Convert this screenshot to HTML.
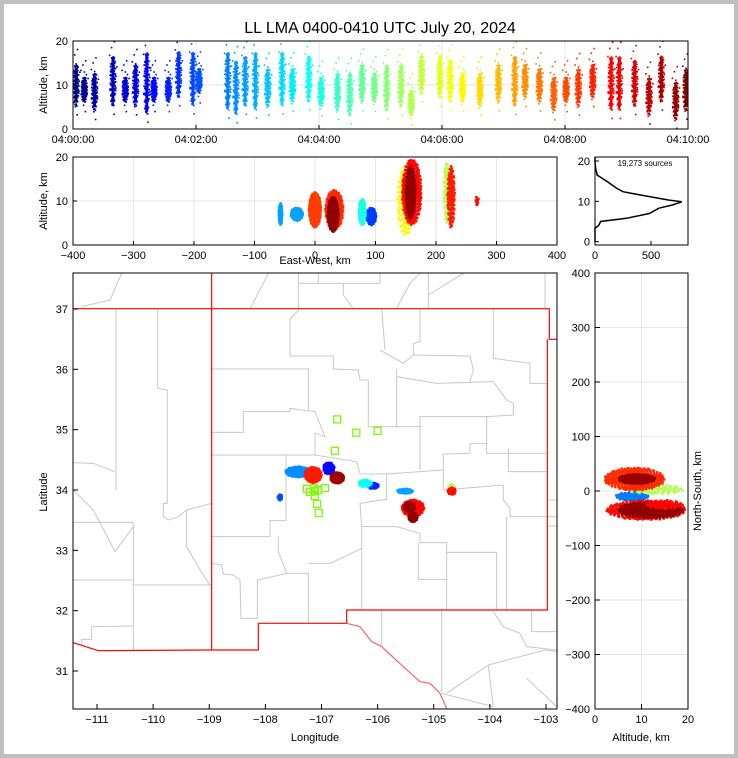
<!DOCTYPE html>
<html><head><meta charset="utf-8"><style>
html,body{margin:0;padding:0;background:#fff}
svg{display:block;font-family:"Liberation Sans",sans-serif}
</style></head><body>
<svg id="fig" width="738" height="758" viewBox="0 0 738 758" xmlns="http://www.w3.org/2000/svg">
<defs>
<clipPath id="clipTop"><rect x="73" y="41" width="615" height="88"/></clipPath>
<clipPath id="clipEW"><rect x="73" y="157" width="484" height="88"/></clipPath>
<clipPath id="clipNS"><rect x="595" y="273" width="93" height="436"/></clipPath>
</defs>
<rect x="0" y="0" width="738" height="758" fill="#c0c0c0"/>
<rect x="4" y="4" width="730" height="750" fill="#fff"/>
<text x="380" y="33" font-size="16" text-anchor="middle">LL LMA 0400-0410 UTC July 20, 2024</text>
<g id="layer"></g>
</svg>
<script>
// ---------- data ----------
const tBins = [3,11,21,39,51,61,72,79,93,103,117,123,151,159,168,178,190,204,214,230,242,258,270,282,294,306,320,330,340,358,368,380,397,415,431,441,455,469,481,493,507,525,533,548,562,574,588,598];
const tAltLo = [5,6,4,5,6,5,3,6,6,7,5,8,4,3,5,4,5,5,6,6,5,4,3,6,6,4,5,3,8,7,6,6,5,6,5,7,6,4,6,5,7,4,4,5,3,6,2,4];
const tAltHi = [15,12,13,17,12,15,18,12,12,18,18,14,18,16,17,18,14,18,14,17,12,13,13,15,13,15,15,9,17,17,16,13,13,15,17,15,14,12,12,14,15,17,17,16,12,17,11,14];
const ewX = [-57,-30,93,78,218,150,0,32,225,160,268,30,158];
const ewAlt = [7,7,6.5,7.5,12,10,8,8,11,12,10,7,12];
const ewSx = [3,10,8,6,5,14,10,15,6,16,3,9,8];
const ewSa = [2.5,1.5,2,3,7,8,4,4.5,7,7.5,1,4,6];
const ewT = [170,170,110,240,330,380,490,500,510,520,520,590,590];
const ewN = [60,90,90,80,90,140,220,220,130,320,8,200,220];
const mapLon = [-106.87,-106.08,-107.74,-107.42,-105.51,-106.22,-104.68,-107.15,-105.37,-104.68,-106.72,-105.43,-105.37];
const mapLat = [34.36,34.07,33.88,34.30,33.98,34.11,34.03,34.25,33.70,33.98,34.20,33.72,33.55];
const mapSx = [0.1,0.1,0.04,0.22,0.14,0.12,0.06,0.15,0.2,0.07,0.12,0.1,0.08];
const mapSy = [0.1,0.05,0.05,0.09,0.04,0.06,0.07,0.13,0.14,0.06,0.09,0.08,0.08];
const mapT = [80,100,120,160,170,230,330,510,520,520,580,585,590];
const mapN = [70,50,20,150,60,50,30,200,150,40,160,120,90];
const staLon = [-106.72,-106.38,-106.0,-106.76,-107.26,-107.21,-107.13,-107.06,-106.94,-107.12,-107.08,-107.05,-107.12];
const staLat = [35.17,34.95,34.98,34.65,34.02,33.97,34.03,34.0,34.03,33.90,33.77,33.62,33.98];
const nsAlt = [8,8,13,8.5,11,9,12,15];
const nsY = [-10,-10,3,22,-35,22,-35,-25];
const nsSa = [3.5,3.5,6,6.5,8.5,4,7,4];
const nsSy = [8,6,9,21,18,9,15,8];
const nsT = [120,150,330,500,520,585,590,520];
const nsN = [60,70,80,300,340,160,280,60];
const hAlt = [0,3.3,4.1,5,5.8,7,8.3,9.1,9.9,10.3,11.6,12.4,13.2,14.9,16.5,18.2,19.8,21];
const hCnt = [0,0,35,50,280,485,570,690,775,660,400,250,195,110,20,5,0,0];
const timeTicks = ["04:00:00","04:02:00","04:04:00","04:06:00","04:08:00","04:10:00"];
const ewTicks = [-400,-300,-200,-100,0,100,200,300,400];
const lonTicks = [-111,-110,-109,-108,-107,-106,-105,-104,-103];
const latTicks = [31,32,33,34,35,36,37];
const nsTicks = [-400,-300,-200,-100,0,100,200,300,400];

// ---------- helpers ----------
const NS = "http://www.w3.org/2000/svg";
const layer = document.getElementById('layer');
function mk(tag, attrs, parent){const e=document.createElementNS(NS,tag);for(const k in attrs)e.setAttribute(k,attrs[k]);(parent||layer).appendChild(e);return e;}
function jet(v){v=Math.max(0,Math.min(1,v));
  const r=Math.max(0,Math.min(1,1.5-Math.abs(4*v-3))),g=Math.max(0,Math.min(1,1.5-Math.abs(4*v-2))),b=Math.max(0,Math.min(1,1.5-Math.abs(4*v-1)));
  return `rgb(${Math.round(r*255)},${Math.round(g*255)},${Math.round(b*255)})`;}
function lin(d0,d1,p0,p1){return v=>p0+(v-d0)*(p1-p0)/(d1-d0);}
function cluster(g,cx,cy,sx,sy,n,col,sz){
  for(let i=0;i<n;i++){const r=Math.sqrt((i+0.5)/n),th=i*2.39996;
    mk('rect',{x:(cx+sx*r*Math.cos(th)-sz/2).toFixed(1),y:(cy+sy*r*Math.sin(th)-sz/2).toFixed(1),width:sz,height:sz,fill:col},g);}
}
function frame(name,x,y,w,h){const f=mk('rect',{x:x,y:y,width:w,height:h,fill:'none',stroke:'#000','stroke-width':1});
  }
function txt(s,x,y,o){const t=mk('text',Object.assign({x:x,y:y,'font-size':11},o||{}));t.textContent=s;return t;}

// ---------- panel 1: time-height ----------
{const X=lin(0,600,73,688),Y=lin(0,20,129,41);
 const g=mk('g',{'clip-path':'url(#clipTop)'});
 for(let i=0;i<6;i++){const x=X(i*120);mk('line',{x1:x,y1:41,x2:x,y2:129,stroke:'#e6e6e6'},g);}
 mk('line',{x1:73,y1:Y(10),x2:688,y2:Y(10),stroke:'#e6e6e6'},g);
 for(let i=0;i<tBins.length;i++){const c=jet(tBins[i]/600),x=X(tBins[i]);
   const b=mk('g',{},g);
   const mid=(tAltLo[i]+tAltHi[i])/2,half=(tAltHi[i]-tAltLo[i])/2;
   mk('rect',{x:x-1.5,y:Y(tAltHi[i]-1),width:3,height:Y(tAltLo[i]+1)-Y(tAltHi[i]-1),fill:c},b);
   cluster(b,x,Y(mid),3,Y(0)-Y(half),70,c,1.8);
   cluster(b,x,Y(mid+1),4,Y(0)-Y(half+4),14,c,1.6);}
 frame('time-height-frame',73,41,615,88);
 [0,10,20].forEach(v=>{mk('line',{x1:73,y1:Y(v),x2:77,y2:Y(v),stroke:'#000'});txt(v,68,Y(v)+4,{'text-anchor':'end'});});
 timeTicks.forEach((s,i)=>{const x=X(i*120);mk('line',{x1:x,y1:129,x2:x,y2:125,stroke:'#000'});txt(s,x,143,{'text-anchor':'middle'});});
 txt('Altitude, km',47,85,{'text-anchor':'middle',transform:'rotate(-90 47 85)'});}

// ---------- panel 2: east-west vs altitude ----------
{const X=lin(-400,400,73,557),Y=lin(0,20,245,157);
 const g=mk('g',{'clip-path':'url(#clipEW)'});
 ewTicks.forEach(v=>mk('line',{x1:X(v),y1:157,x2:X(v),y2:245,stroke:'#e6e6e6'},g));
 mk('line',{x1:73,y1:Y(10),x2:557,y2:Y(10),stroke:'#e6e6e6'},g);
 for(let i=0;i<ewX.length;i++){const c=mk('g',{},g);
   cluster(c,X(ewX[i]),Y(ewAlt[i]),X(ewSx[i])-X(0),Y(0)-Y(ewSa[i]),ewN[i],jet(ewT[i]/600),2.5);}
 frame('east-west-frame',73,157,484,88);
 [0,10,20].forEach(v=>{mk('line',{x1:73,y1:Y(v),x2:77,y2:Y(v),stroke:'#000'});txt(v,68,Y(v)+4,{'text-anchor':'end'});});
 ewTicks.forEach(v=>{mk('line',{x1:X(v),y1:245,x2:X(v),y2:241,stroke:'#000'});txt(v<0?'\u2212'+(-v):v,X(v),259,{'text-anchor':'middle'});});
 txt('East-West, km',315,264,{'text-anchor':'middle'});
 txt('Altitude, km',47,201,{'text-anchor':'middle',transform:'rotate(-90 47 201)'});}

// ---------- histogram ----------
{const X=lin(0,830,595,688),Y=lin(0,20,241.7,161);
 const pts=hAlt.map((a,i)=>X(hCnt[i]).toFixed(1)+','+Y(a).toFixed(1)).join(' ');
 const p=mk('polyline',{points:pts,fill:'none',stroke:'#000','stroke-width':1.5});
 
 frame('histogram-frame',595,157,93,88);
 [0,10,20].forEach(v=>{mk('line',{x1:595,y1:Y(v),x2:599,y2:Y(v),stroke:'#000'});txt(v,590,Y(v)+4,{'text-anchor':'end'});});
 [0,500].forEach(v=>{mk('line',{x1:X(v),y1:245,x2:X(v),y2:241,stroke:'#000'});txt(v,X(v),259,{'text-anchor':'middle'});});
 txt('19,273 sources',645,166,{'text-anchor':'middle','font-size':8});}

// ---------- map ----------
{const X=lin(-111,-103,97,546),Y=lin(37,31,309,671);
 const g=mk('g',{transform:'translate(60 270) scale(0.33333)',fill:'none',stroke:'#c8c8c8','stroke-width':3});
 
 const grey=["168,116 168,660","40,578 100,580 165,605","293,116 293,355 322,360 322,700 310,700 310,740 325,750 355,740 380,720 455,700","220,760 220,1140","40,757 220,757","40,930 218,930","218,945 455,945","380,720 380,830 420,900 450,945","95,1070 218,1068","95,1070 95,1108 65,1108 65,1125","40,660 100,720 165,845 220,770",
 "455,297 745,297 745,420","455,487 550,487 550,425 690,425 690,415 765,425 795,500 765,490 765,555 455,555","678,555 678,752 630,752 630,800 455,800","655,800 655,845 680,910 745,910 745,1060","745,880 810,880 905,835","455,880 485,885 490,912 520,915 540,930 543,1045 592,1045 592,930 680,910","765,555 890,575 900,612 980,612 980,688 900,700 905,770","905,770 905,1020","905,770 1010,770 1080,790 1080,818 1160,818 1160,847 1310,847 1310,1020","1160,847 1160,1020","1075,818 1075,928 1160,928","1080,600 1080,440 1280,440 1280,550 1460,550","1085,470 925,470 925,330 900,330 895,300 820,297 820,258 690,258 690,147 720,116","1010,297 1010,470","1010,320 1130,340 1300,335 1340,390 1360,400 1360,435 1280,440","1300,116 1300,265 1410,280 1410,340 1460,340","1060,255 1230,258 1240,300 1230,335","960,240 1030,280 1060,255 1060,220 1080,215 1080,116","965,116 975,240","1150,552 1230,550 1230,520 1280,520","1150,552 1150,660","1330,645 1330,690 1350,715 1350,740 1460,740","1340,740 1340,1020","1345,535 1345,605 1460,605","1150,660 1330,645","980,612 1150,600",
 "715,10 715,116","715,40 960,40 960,10","850,40 850,75 880,116","775,10 775,40","1105,10 1105,116","1010,116 1050,40 1080,10","570,116 610,40 625,10","1105,75 1210,10","1455,10 1455,116","65,110 150,90 185,10",
 "1160,1270 1285,1185 1455,1140 1490,1145","1285,1185 1300,1310","1145,1270 1300,1310","1300,1025 1330,1070 1380,1090 1400,1130 1490,1140","1415,1020 1415,1085 1490,1085","965,1020 965,1130","1145,1020 1145,1265","1400,1225 1490,1310","1462,740 1490,740","1462,768 1490,768","1462,690 1490,690"];
 grey.forEach(p=>mk('polyline',{points:p},g));
 const r=mk('g',{transform:'translate(60 270) scale(0.33333)',fill:'none',stroke:'#ff0000','stroke-width':3.5});
 
 ["40,116 1468,116 1468,208 1490,208","1462,208 1462,1020 860,1020 860,1060 595,1060 595,1140 455,1140 115,1142 40,1118","455,10 455,1140"].forEach(p=>mk('polyline',{points:p},r));
 mk('polyline',{points:"860,1060 900,1070 935,1115 965,1130 1030,1190 1080,1235 1110,1240 1140,1270 1160,1315",stroke:'#ff6060'},r);
 for(let i=0;i<mapLon.length;i++){const c=mk('g',{});
   cluster(c,X(mapLon[i]),Y(mapLat[i]),X(mapSx[i])-X(0),Y(0)-Y(mapSy[i]),mapN[i],jet(mapT[i]/600),2.5);}
 for(let i=0;i<staLon.length;i++){const s=mk('rect',{x:X(staLon[i])-3.5,y:Y(staLat[i])-3.5,width:7,height:7,fill:'none',stroke:'#7cfc00','stroke-width':1.3});
   }
 frame('map-frame',73,273,484,436);
 lonTicks.forEach(v=>{mk('line',{x1:X(v),y1:709,x2:X(v),y2:704,stroke:'#000'});txt('\u2212'+(-v),X(v),723,{'text-anchor':'middle'});});
 latTicks.forEach(v=>{mk('line',{x1:73,y1:Y(v),x2:78,y2:Y(v),stroke:'#000'});txt(v,68,Y(v)+4,{'text-anchor':'end'});});
 txt('Longitude',315,741,{'text-anchor':'middle'});
 txt('Latitude',47,492,{'text-anchor':'middle',transform:'rotate(-90 47 492)'});}

// ---------- north-south vs altitude ----------
{const X=lin(0,20,595,688),Y=lin(-400,400,709,273);
 const g=mk('g',{'clip-path':'url(#clipNS)'});
 [0,10,20].forEach(v=>mk('line',{x1:X(v),y1:273,x2:X(v),y2:709,stroke:'#e6e6e6'},g));
 nsTicks.forEach(v=>mk('line',{x1:595,y1:Y(v),x2:688,y2:Y(v),stroke:'#e6e6e6'},g));
 for(let i=0;i<nsAlt.length;i++){const c=mk('g',{},g);
   cluster(c,X(nsAlt[i]),Y(nsY[i]),X(nsSa[i])-X(0),Y(0)-Y(nsSy[i]),nsN[i],jet(nsT[i]/600),2.5);}
 frame('north-south-frame',595,273,93,436);
 [0,10,20].forEach(v=>{mk('line',{x1:X(v),y1:709,x2:X(v),y2:704,stroke:'#000'});txt(v,X(v),723,{'text-anchor':'middle'});});
 nsTicks.forEach(v=>{mk('line',{x1:595,y1:Y(v),x2:600,y2:Y(v),stroke:'#000'});txt(v<0?'\u2212'+(-v):v,590,Y(v)+4,{'text-anchor':'end'});});
 txt('Altitude, km',641,741,{'text-anchor':'middle'});
 txt('North-South, km',701,491,{'text-anchor':'middle',transform:'rotate(-90 701 491)'});}
</script>
</body></html>
